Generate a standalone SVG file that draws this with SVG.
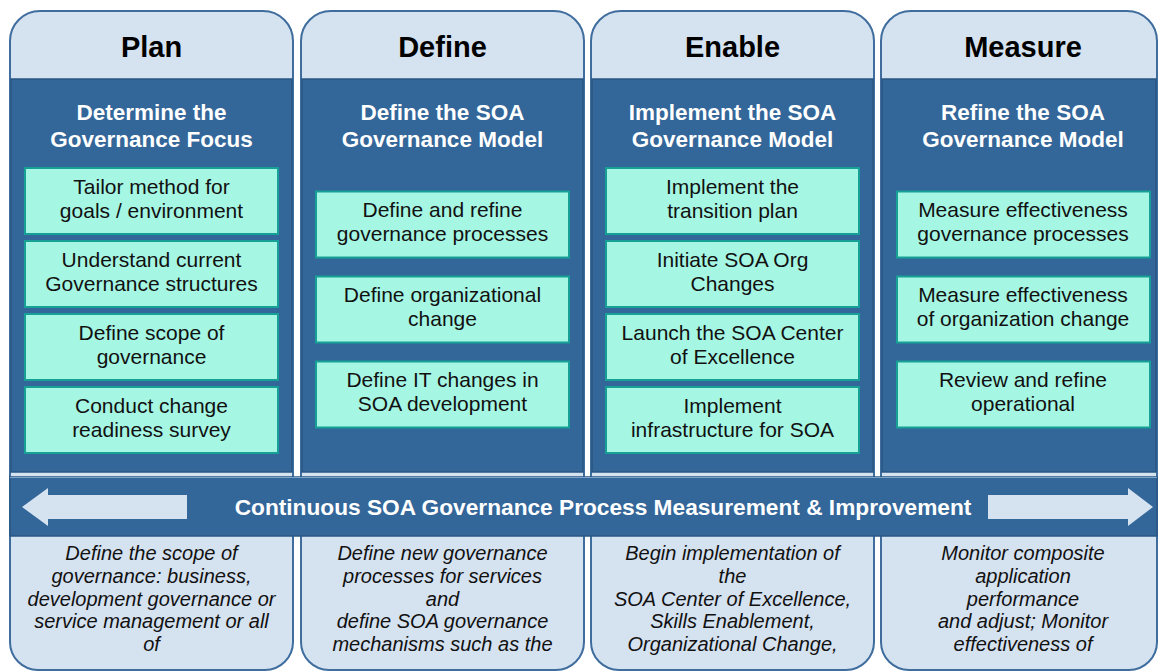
<svg xmlns="http://www.w3.org/2000/svg" width="1158" height="671" viewBox="0 0 1158 671">
<style>
.col{fill:#d5e2f0;stroke:#3f6d9e;stroke-width:2}
.dark{fill:#336699;stroke:#2a5784;stroke-width:1.5}
.box{fill:#a6f6e4;stroke:#16a096;stroke-width:2}
.title{font-family:"Liberation Sans",Arial,sans-serif;font-weight:bold;font-size:29px;fill:#000;text-anchor:middle}
.sub{font-family:"Liberation Sans",Arial,sans-serif;font-weight:bold;font-size:22.5px;fill:#fff;text-anchor:middle}
.bt{font-family:"Liberation Sans",Arial,sans-serif;font-size:21px;fill:#111;text-anchor:middle}
.it{font-family:"Liberation Sans",Arial,sans-serif;font-style:italic;font-size:20px;fill:#111;text-anchor:middle}
.ban{font-family:"Liberation Sans",Arial,sans-serif;font-weight:bold;font-size:22.7px;fill:#fff;text-anchor:middle}
.arrow{fill:#d5e2f0}
</style>
<rect width="1158" height="671" fill="#fff"/>

<g id="col-plan">
<path class="col" d="M10,41 A30,30 0 0 1 40,11 H263 A30,30 0 0 1 293,41 V642 A28,28 0 0 1 265,670 H38 A28,28 0 0 1 10,642 Z"/>
<rect class="dark" x="11" y="79" width="281" height="393"/>
<text class="title" x="151.5" y="57">Plan</text>
<text class="sub" x="151.5" y="119.5">Determine the</text>
<text class="sub" x="151.5" y="146.5">Governance Focus</text>
<g id="plan-1"><rect class="box" x="25" y="168" width="253" height="66"/><text class="bt" x="151.5" y="194">Tailor method for</text><text class="bt" x="151.5" y="218">goals / environment</text></g>
<g id="plan-2"><rect class="box" x="25" y="241" width="253" height="66"/><text class="bt" x="151.5" y="267">Understand current</text><text class="bt" x="151.5" y="291">Governance structures</text></g>
<g id="plan-3"><rect class="box" x="25" y="314" width="253" height="66"/><text class="bt" x="151.5" y="340">Define scope of</text><text class="bt" x="151.5" y="364">governance</text></g>
<g id="plan-4"><rect class="box" x="25" y="387" width="253" height="66"/><text class="bt" x="151.5" y="413">Conduct change</text><text class="bt" x="151.5" y="437">readiness survey</text></g>
<text class="it" x="151.5" y="560">Define the scope of</text>
<text class="it" x="151.5" y="583">governance: business,</text>
<text class="it" x="151.5" y="606">development governance or</text>
<text class="it" x="151.5" y="628">service management or all</text>
<text class="it" x="151.5" y="651">of</text>
</g>

<g id="col-define">
<path class="col" d="M301,41 A30,30 0 0 1 331,11 H554 A30,30 0 0 1 584,41 V642 A28,28 0 0 1 556,670 H329 A28,28 0 0 1 301,642 Z"/>
<rect class="dark" x="302" y="79" width="281" height="393"/>
<text class="title" x="442.5" y="57">Define</text>
<text class="sub" x="442.5" y="119.5">Define the SOA</text>
<text class="sub" x="442.5" y="146.5">Governance Model</text>
<g id="define-1"><rect class="box" x="316" y="191.5" width="253" height="66"/><text class="bt" x="442.5" y="217">Define and refine</text><text class="bt" x="442.5" y="241">governance processes</text></g>
<g id="define-2"><rect class="box" x="316" y="276.5" width="253" height="66"/><text class="bt" x="442.5" y="302">Define organizational</text><text class="bt" x="442.5" y="326">change</text></g>
<g id="define-3"><rect class="box" x="316" y="361.5" width="253" height="66"/><text class="bt" x="442.5" y="387">Define IT changes in</text><text class="bt" x="442.5" y="411">SOA development</text></g>
<text class="it" x="442.5" y="560">Define new governance</text>
<text class="it" x="442.5" y="583">processes for services</text>
<text class="it" x="442.5" y="606">and</text>
<text class="it" x="442.5" y="628">define SOA governance</text>
<text class="it" x="442.5" y="651">mechanisms such as the</text>
</g>

<g id="col-enable">
<path class="col" d="M591,41 A30,30 0 0 1 621,11 H844 A30,30 0 0 1 874,41 V642 A28,28 0 0 1 846,670 H619 A28,28 0 0 1 591,642 Z"/>
<rect class="dark" x="592" y="79" width="281" height="393"/>
<text class="title" x="732.5" y="57">Enable</text>
<text class="sub" x="732.5" y="119.5">Implement the SOA</text>
<text class="sub" x="732.5" y="146.5">Governance Model</text>
<g id="enable-1"><rect class="box" x="606" y="168" width="253" height="66"/><text class="bt" x="732.5" y="194">Implement the</text><text class="bt" x="732.5" y="218">transition plan</text></g>
<g id="enable-2"><rect class="box" x="606" y="241" width="253" height="66"/><text class="bt" x="732.5" y="267">Initiate SOA Org</text><text class="bt" x="732.5" y="291">Changes</text></g>
<g id="enable-3"><rect class="box" x="606" y="314" width="253" height="66"/><text class="bt" x="732.5" y="340">Launch the SOA Center</text><text class="bt" x="732.5" y="364">of Excellence</text></g>
<g id="enable-4"><rect class="box" x="606" y="387" width="253" height="66"/><text class="bt" x="732.5" y="413">Implement</text><text class="bt" x="732.5" y="437">infrastructure for SOA</text></g>
<text class="it" x="732.5" y="560">Begin implementation of</text>
<text class="it" x="732.5" y="583">the</text>
<text class="it" x="732.5" y="606">SOA Center of Excellence,</text>
<text class="it" x="732.5" y="628">Skills Enablement,</text>
<text class="it" x="732.5" y="651">Organizational Change,</text>
</g>

<g id="col-measure">
<path class="col" d="M881,41 A30,30 0 0 1 911,11 H1127 A30,30 0 0 1 1157,41 V642 A28,28 0 0 1 1129,670 H909 A28,28 0 0 1 881,642 Z"/>
<rect class="dark" x="882" y="79" width="274" height="393"/>
<text class="title" x="1023" y="57">Measure</text>
<text class="sub" x="1023" y="119.5">Refine the SOA</text>
<text class="sub" x="1023" y="146.5">Governance Model</text>
<g id="measure-1"><rect class="box" x="897" y="191.5" width="253" height="66"/><text class="bt" x="1023" y="217">Measure effectiveness</text><text class="bt" x="1023" y="241">governance processes</text></g>
<g id="measure-2"><rect class="box" x="897" y="276.5" width="253" height="66"/><text class="bt" x="1023" y="302">Measure effectiveness</text><text class="bt" x="1023" y="326">of organization change</text></g>
<g id="measure-3"><rect class="box" x="897" y="361.5" width="253" height="66"/><text class="bt" x="1023" y="387">Review and refine</text><text class="bt" x="1023" y="411">operational</text></g>
<text class="it" x="1023" y="560">Monitor composite</text>
<text class="it" x="1023" y="583">application</text>
<text class="it" x="1023" y="606">performance</text>
<text class="it" x="1023" y="628">and adjust; Monitor</text>
<text class="it" x="1023" y="651">effectiveness of</text>
</g>

<g id="banner">
<rect x="10" y="477" width="1147" height="59" fill="#336699" stroke="#2a5784" stroke-width="1.5"/>
<line x1="10" y1="477.5" x2="1157" y2="477.5" stroke="#7fa3c9" stroke-width="1"/>
<text class="ban" x="603" y="515">Continuous SOA Governance Process Measurement &amp; Improvement</text>
</g>

<g id="connectors">
<polygon class="arrow" points="22,507 48,488 48,495 187,495 187,519 48,519 48,526"/>
<polygon class="arrow" points="988,495 1128,495 1128,488 1153,507 1128,526 1128,519 988,519"/>
</g>
</svg>
